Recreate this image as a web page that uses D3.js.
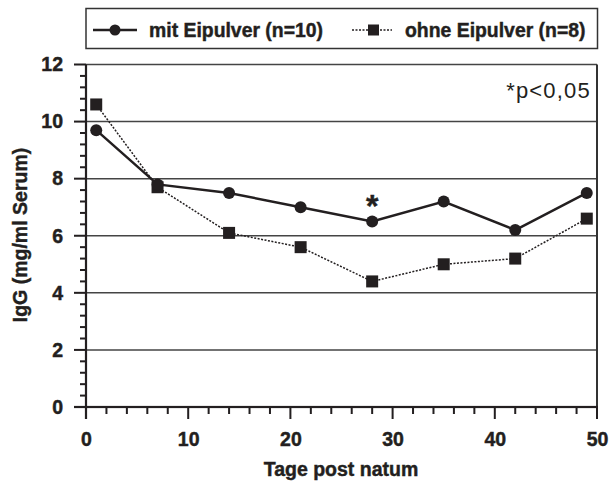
<!DOCTYPE html>
<html><head><meta charset="utf-8">
<script src="https://cdn.jsdelivr.net/npm/d3@7"></script>
<style>body{margin:0;background:#fff}svg{display:block}text{font-family:"Liberation Sans",Arial,sans-serif;fill:#231f20}text.b{stroke:#231f20;stroke-width:0.45px}</style>
</head><body>
<script>
const days = [1, 7, 14, 21, 28, 35, 42, 49];
const mitValues = [9.7, 7.8, 7.5, 7.0, 6.5, 7.2, 6.2, 7.5];
const ohneValues = [10.6, 7.7, 6.1, 5.6, 4.4, 5.0, 5.2, 6.6];
const seriesNames = ["mit Eipulver (n=10)", "ohne Eipulver (n=8)"];
const xTicks = [0, 10, 20, 30, 40, 50];
const yTicks = [0, 2, 4, 6, 8, 10, 12];
const sigDay = 28;

const W = 609, H = 485;
const svg = d3.select("body").append("svg").attr("width", W).attr("height", H);
const ink = "#231f20";
const x = d3.scaleLinear().domain([0, 50]).range([86, 597]);
const y = d3.scaleLinear().domain([0, 12]).range([407, 64.5]);

// grid lines
svg.append("g").selectAll("line").data(yTicks.filter(v => v > 0)).join("line")
  .attr("x1", x(0)).attr("x2", x(50)).attr("y1", d => y(d)).attr("y2", d => y(d))
  .attr("stroke", "#444").attr("stroke-width", 1.5);
// right frame
svg.append("rect").attr("x", x(50) - 1).attr("y", y(12)).attr("width", 2).attr("height", y(0) - y(12) + 12)
  .attr("fill", "#333");

// axes (labels via d3 axis)
const gy = svg.append("g").attr("transform", `translate(${x(0)},0)`)
  .call(d3.axisLeft(y).tickValues(yTicks).tickSize(0).tickPadding(23));
const gx = svg.append("g").attr("transform", `translate(0,${y(0)})`)
  .call(d3.axisBottom(x).tickValues(xTicks).tickSize(0).tickPadding(25));
[gy, gx].forEach(g => {
  g.select(".domain").remove();
  g.selectAll("text").attr("class", "b").attr("font-size", 19.5).attr("font-weight", "bold")
    .attr("font-family", '"Liberation Sans",Arial,sans-serif').attr("fill", ink);
});
// tick marks as rects
const yMinor = d3.range(0, 12.01, 0.4).filter(v => Math.abs(v / 2 - Math.round(v / 2)) > 0.01);
const xMinor = d3.range(0, 50.01, 2).filter(v => v % 10 !== 0);
const tk = svg.append("g").attr("fill", ink);
tk.selectAll(".ym").data(yMinor).join("rect").attr("class", "ym")
  .attr("x", x(0) - 6).attr("width", 6).attr("y", d => y(d) - 1).attr("height", 2);
tk.selectAll(".yM").data(yTicks).join("rect").attr("class", "yM")
  .attr("x", x(0) - 12).attr("width", 12).attr("y", d => y(d) - 1).attr("height", 2);
tk.selectAll(".xm").data(xMinor).join("rect").attr("class", "xm")
  .attr("x", d => x(d) - 1).attr("width", 2).attr("y", y(0)).attr("height", 7);
tk.selectAll(".xM").data(xTicks).join("rect").attr("class", "xM")
  .attr("x", d => x(d) - 1).attr("width", 2).attr("y", y(0)).attr("height", 12);
// axis lines
tk.append("rect").attr("x", x(0) - 1.1).attr("width", 2.2).attr("y", y(12)).attr("height", y(0) - y(12) + 12);
tk.append("rect").attr("x", x(0) - 12).attr("width", x(50) - x(0) + 13).attr("y", y(0) - 1.1).attr("height", 2.2);

// axis titles
svg.append("text").attr("class", "b").attr("x", 341).attr("y", 476).attr("text-anchor", "middle")
  .attr("font-size", 19.5).attr("font-weight", "bold").text("Tage post natum");
svg.append("text").attr("class", "b").attr("transform", "translate(27,235) rotate(-90)").attr("text-anchor", "middle")
  .attr("font-size", 19.5).attr("font-weight", "bold").text("IgG (mg/ml Serum)");

// lines
const line = d3.line().x(d => x(d[0])).y(d => y(d[1]));
const mitData = days.map((d, i) => [d, mitValues[i]]);
const ohneData = days.map((d, i) => [d, ohneValues[i]]);
svg.append("path").datum(ohneData).attr("d", line).attr("fill", "none")
  .attr("stroke", ink).attr("stroke-width", 1.5).attr("stroke-dasharray", "2,1.5");
svg.append("path").datum(mitData).attr("d", line).attr("fill", "none")
  .attr("stroke", ink).attr("stroke-width", 2.5);
svg.append("g").selectAll("rect").data(ohneData).join("rect")
  .attr("x", d => x(d[0]) - 6).attr("y", d => y(d[1]) - 6).attr("width", 12).attr("height", 12).attr("fill", ink);
svg.append("g").selectAll("circle").data(mitData).join("circle")
  .attr("cx", d => x(d[0])).attr("cy", d => y(d[1])).attr("r", 6).attr("fill", ink);

// significance
svg.append("text").attr("class", "b").attr("x", x(sigDay)).attr("y", y(mitValues[days.indexOf(sigDay)]) - 4)
  .attr("text-anchor", "middle").attr("font-size", 32).attr("font-weight", "bold").text("*");
svg.append("text").attr("x", 591).attr("y", 97.5).attr("text-anchor", "end")
  .attr("font-size", 22).attr("letter-spacing", 1.2).text("*p<0,05");

// legend
svg.append("rect").attr("x", 86).attr("y", 8.5).attr("width", 511.5).attr("height", 40)
  .attr("fill", "none").attr("stroke", "#333").attr("stroke-width", 1.5);
const lg = svg.append("g");
lg.append("line").attr("x1", 93).attr("x2", 137).attr("y1", 30).attr("y2", 30).attr("stroke", ink).attr("stroke-width", 2.5);
lg.append("circle").attr("cx", 115).attr("cy", 30).attr("r", 5.5).attr("fill", ink);
lg.append("text").attr("class", "b").attr("x", 149).attr("y", 37).attr("font-size", 19.4).attr("font-weight", "bold").text(seriesNames[0]);
lg.append("line").attr("x1", 352).attr("x2", 392).attr("y1", 30).attr("y2", 30).attr("stroke", ink).attr("stroke-width", 1.5).attr("stroke-dasharray", "2,1.5");
lg.append("rect").attr("x", 368).attr("y", 24.5).attr("width", 11).attr("height", 11).attr("fill", ink);
lg.append("text").attr("class", "b").attr("x", 405).attr("y", 37).attr("font-size", 19.4).attr("font-weight", "bold").text(seriesNames[1]);
</script>
</body></html>
